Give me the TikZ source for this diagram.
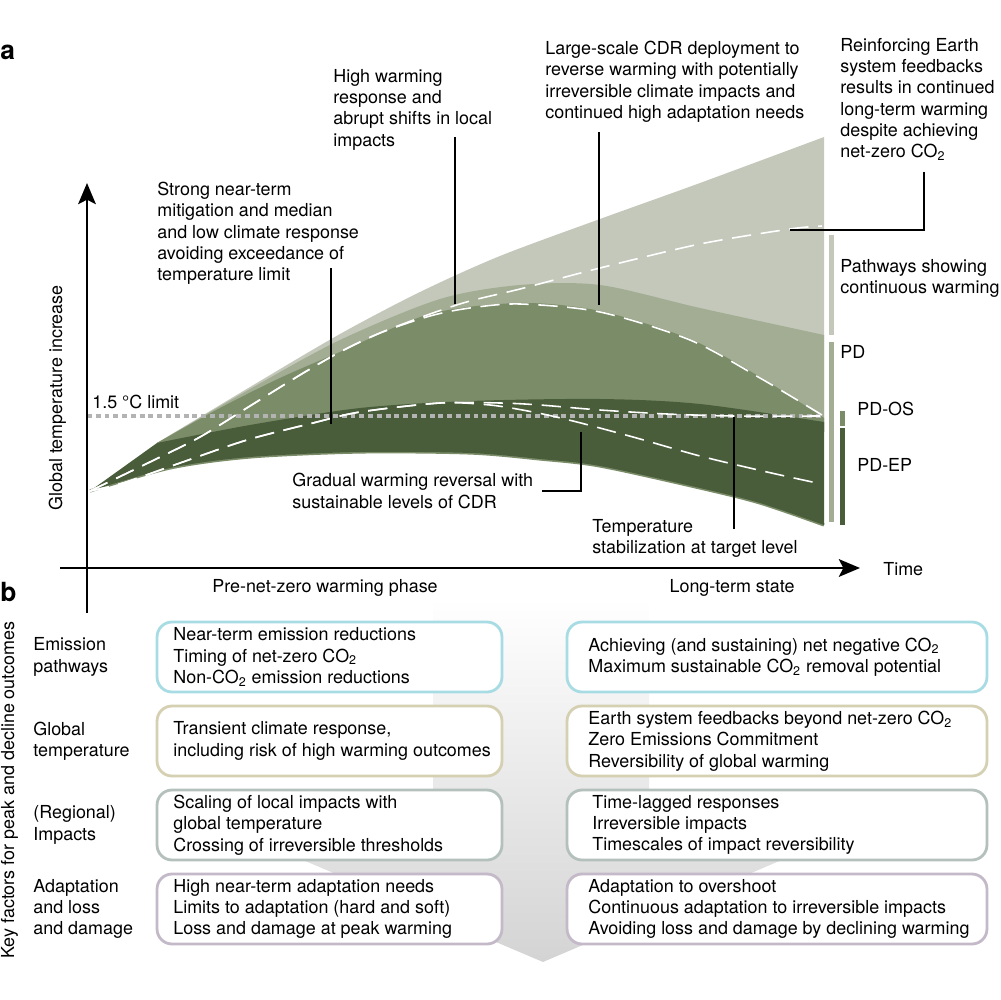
\documentclass[tikz,border=0pt]{standalone}
\usepackage{fontspec}
\setmainfont{TeX Gyre Heros}
\usetikzlibrary{arrows.meta,positioning}
\definecolor{cwgray}{HTML}{C4C8BB}
\definecolor{pdgreen}{HTML}{A2AD93}
\definecolor{osgreen}{HTML}{7B8C69}
\definecolor{epgreen}{HTML}{4A5D3B}
\definecolor{limitgray}{HTML}{B3B3B3}
\definecolor{emisblue}{HTML}{A8DCE4}
\definecolor{tempkhaki}{HTML}{D4D0B1}
\definecolor{impgray}{HTML}{B4C0BC}
\definecolor{adaptlilac}{HTML}{C4B9C8}
\newcommand{\cotwo}{CO\textsubscript{2}}
\begin{document}
\begin{tikzpicture}[x=0.02cm,y=-0.02cm,font=\fontsize{10.2}{12.1}\selectfont,
	pathdash/.style={white,line width=0.9pt,dash pattern=on 11pt off 5.5pt},
	leader/.style={black,line width=0.7pt},
	axis/.style={black,line width=1.5pt,-{Stealth[length=12pt,width=10pt,inset=2.5pt]}},
	keybox/.style={draw=#1,line width=1.6pt,rounded corners=0.3cm,fill=white,minimum height=1.4cm},
	txt/.style={anchor=north west,align=left},
	rowtxt/.style={anchor=west,align=left}]
			\tikzstyle{every node}+=[inner sep=0pt]
			\useasboundingbox (0,0) rectangle (1000,1000);
			\shade [top color=white,bottom color=black!17] (433,598) -- (649,598) -- (649,815) -- (887,815) -- (543,962) -- (197,815) -- (433,815) -- cycle;
			\fill [cwgray] plot [smooth] coordinates {(157,443) (250,387) (340,334) (420,292) (500,256) (600,219) (700,183) (824,137)} -- (824,432) -- cycle;
			\fill [pdgreen] plot [smooth] coordinates {(157,443) (250,389) (340,340) (440,299) (520,285) (600,285) (700,308) (824,335)} -- (824,432) -- cycle;
			\fill [osgreen] plot [smooth] coordinates {(157,443) (220,408) (280,378) (340,352) (430,314) (520,303) (600,311) (690,339) (760,377) (824,418)} -- (824,432) -- cycle;
			\draw [osgreen,line width=1.8pt] plot [smooth] coordinates {(824,525) (760,503) (700,488) (600,466) (540,459) (470,453) (360,452) (250,457) (170,468) (90,491)};
			\fill [epgreen] (90,491) -- plot [smooth] coordinates {(157,443) (250,425) (360,408) (470,401) (600,399) (700,404) (824,422)} -- (824,525) -- plot [smooth] coordinates {(824,525) (760,503) (700,488) (600,466) (540,459) (470,453) (360,452) (250,457) (170,468) (90,491)} -- cycle;
			\coordinate (limitstart) at (87,416);
			\coordinate (limitend) at (824,416);
			\draw [limitgray,line width=2pt,dash pattern=on 2.8pt off 2.2pt] (limitstart) -- (limitend);
			\draw [pathdash] plot [smooth] coordinates {(90,491) (150,462) (200,437) (250,406) (300,375) (340,352) (380,333) (430,314) (470,301) (520,289) (600,268) (700,244) (790,229) (822,226)};
			\draw [pathdash] plot [smooth] coordinates {(90,491) (150,462) (200,437) (250,406) (300,375) (340,352) (380,333) (430,316) (470,308) (520,304) (600,312) (690,340) (760,378) (822,415)};
			\draw [pathdash] plot [smooth] coordinates {(90,491) (123,483) (180,463) (247,440) (313,423) (360,412) (440,403) (500,403) (540,405) (600,410) (667,414) (733,416) (820,416)};
			\draw [pathdash] plot [smooth] coordinates {(90,491) (123,483) (180,463) (247,440) (313,423) (360,412) (440,403) (490,405) (533,412) (573,421) (633,437) (700,456) (767,472) (817,483)};
			\fill [cwgray] (829,235) rectangle (834,335);
			\fill [pdgreen] (829,342) rectangle (834,522);
			\fill [osgreen] (840,411) rectangle (845,426);
			\fill [epgreen] (840,428) rectangle (845,525);
			\coordinate (ybase) at (87,613);
			\coordinate (ytip) at (87,183);
			\coordinate (xbase) at (60,568);
			\coordinate (xtip) at (860,568);
			\draw [axis] (ybase) -- (ytip);
			\draw [axis] (xbase) -- (xtip);
			\coordinate (strongA) at (331,268);
			\coordinate (strongB) at (331,424);
			\coordinate (highA) at (455,137);
			\coordinate (highB) at (455,304);
			\coordinate (largeA) at (599,132);
			\coordinate (largeB) at (599,305);
			\coordinate (reinfA) at (924,172);
			\coordinate (reinfB) at (790,230);
			\coordinate (gradA) at (542,491);
			\coordinate (gradB) at (581,432);
			\coordinate (stabA) at (734,529);
			\coordinate (stabB) at (734,417);
			\draw [leader] (strongA) -- (strongB);
			\draw [leader] (highA) -- (highB);
			\draw [leader] (largeA) -- (largeB);
			\draw [leader] (reinfA) |- (reinfB);
			\draw [leader] (gradA) -| (gradB);
			\draw [leader] (stabA) -- (stabB);
			\draw (0,60) node [anchor=base west,font=\fontsize{15}{15}\bfseries\selectfont] (panela) {a};
			\draw (0,601) node [anchor=base west,font=\fontsize{15}{15}\bfseries\selectfont] (panelb) {b};
			\draw (62,398) node [anchor=base,rotate=90] (ylabel) {Global temperature increase};
			\draw (14,790) node [anchor=base,rotate=90] (keylabel) {Key factors for peak and decline outcomes};
			\draw (883,569) node [anchor=west] (timelabel) {Time};
			\draw (325,592) node [anchor=base] (prephase) {Pre-net-zero warming phase};
			\draw (732,592) node [anchor=base] (longterm) {Long-term state};
			\draw (92,395) node [txt] (limitlabel) {1.5 °C limit};
			\draw (157,182) node [txt] (strongtxt) {Strong near-term\\mitigation and median\\and low climate response\\avoiding exceedance of\\temperature limit};
			\draw (333,69) node [txt] (hightxt) {High warming\\response and\\abrupt shifts in local\\impacts};
			\draw (545,41) node [txt] (largetxt) {Large-scale CDR deployment to\\reverse warming with potentially\\irreversible climate impacts and\\continued high adaptation needs};
			\draw (840,38) node [txt] (reinftxt) {Reinforcing Earth\\system feedbacks\\results in continued\\long-term warming\\despite achieving\\net-zero \cotwo};
			\draw (840,259) node [txt] (cwtxt) {Pathways showing\\continuous warming};
			\draw (840,345) node [txt] (pdtxt) {PD};
			\draw (857,402) node [txt] (ostxt) {PD-OS};
			\draw (857,458) node [txt] (eptxt) {PD-EP};
			\draw (292,473) node [txt] (gradtxt) {Gradual warming reversal with\\sustainable levels of CDR};
			\draw (592,519) node [txt] (stabtxt) {Temperature\\stabilization at target level};
			\draw (33,657) node [rowtxt] (emisrow) {Emission\\pathways};
			\draw (33,741) node [rowtxt] (temprow) {Global\\temperature};
			\draw (33,825) node [rowtxt] (improw) {(Regional)\\Impacts};
			\draw (33,909) node [rowtxt] (adaptrow) {Adaptation\\and loss\\and damage};
			\draw (329.5,657) node [keybox=emisblue,minimum width=6.9cm] (emispre) {};
			\draw (777,657) node [keybox=emisblue,minimum width=8.4cm] (emislong) {};
			\draw (329.5,741) node [keybox=tempkhaki,minimum width=6.9cm] (temppre) {};
			\draw (777,741) node [keybox=tempkhaki,minimum width=8.4cm] (templong) {};
			\draw (329.5,825) node [keybox=impgray,minimum width=6.9cm] (imppre) {};
			\draw (777,825) node [keybox=impgray,minimum width=8.4cm] (implong) {};
			\draw (329.5,909) node [keybox=adaptlilac,minimum width=6.9cm] (adaptpre) {};
			\draw (777,909) node [keybox=adaptlilac,minimum width=8.4cm] (adaptlong) {};
			\draw (173,657) node [rowtxt] (emispretxt) {Near-term emission reductions\\Timing of net-zero \cotwo\\Non-\cotwo{} emission reductions};
			\draw (588,657) node [rowtxt] (emislongtxt) {Achieving (and sustaining) net negative \cotwo\\Maximum sustainable \cotwo{} removal potential};
			\draw (173,741) node [rowtxt] (temppretxt) {Transient climate response,\\including risk of high warming outcomes};
			\draw (588,741) node [rowtxt] (templongtxt) {Earth system feedbacks beyond net-zero \cotwo\\Zero Emissions Commitment\\Reversibility of global warming};
			\draw (173,825) node [rowtxt] (imppretxt) {Scaling of local impacts with\\global temperature\\Crossing of irreversible thresholds};
			\draw (592,825) node [rowtxt] (implongtxt) {Time-lagged responses\\Irreversible impacts\\Timescales of impact reversibility};
			\draw (173,909) node [rowtxt] (adaptpretxt) {High near-term adaptation needs\\Limits to adaptation (hard and soft)\\Loss and damage at peak warming};
			\draw (588,909) node [rowtxt] (adaptlongtxt) {Adaptation to overshoot\\Continuous adaptation to irreversible impacts\\Avoiding loss and damage by declining warming};
		\end{tikzpicture}
\end{document}
